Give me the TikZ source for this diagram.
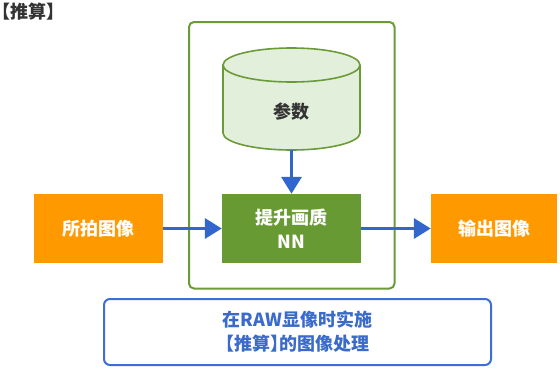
\documentclass[tikz,border=0pt]{standalone}
\usepackage{fontspec}
\setmainfont{Noto Sans CJK SC}[RawFeature=+halt]
\usetikzlibrary{arrows.meta}
\definecolor{gborder}{HTML}{6B9B37}
\definecolor{gfill}{HTML}{689A34}
\definecolor{cylfill}{HTML}{E2EFDA}
\definecolor{orng}{HTML}{FF9900}
\definecolor{arrblue}{HTML}{3366CC}
\definecolor{boxblue}{HTML}{3C6FD6}
\definecolor{txtblue}{HTML}{3A6BC9}
\definecolor{dark}{HTML}{333333}
\tikzset{
  bigfont/.style={font=\fontsize{18}{24}\selectfont\bfseries},
  orangebox/.style={fill=orng, draw=none, text=white, bigfont, inner sep=0pt},
  nnbox/.style={fill=gfill, draw=none, text=white, bigfont, align=center, inner sep=0pt},
  flow/.style={draw=arrblue, line width=3.5pt, -{Triangle[length=17pt,width=20pt]}},
}
\begin{document}
\begin{tikzpicture}[x=1pt,y=-1pt]
\useasboundingbox (0,0) rectangle (560,370);
% title
\node[anchor=west, text=dark, bigfont, inner sep=0pt] (title) at (1.5,11.5) {【推算】};
% outer green frame
\draw[draw=gborder, line width=2pt, rounded corners=5pt] (189,22) rectangle (394.5,288.5);
% cylinder
\fill[cylfill] (223,65) -- (223,133) arc[start angle=180,end angle=0,x radius=68.5,y radius=17] -- (360,65) arc[start angle=0,end angle=-180,x radius=68.5,y radius=17] -- cycle;
\draw[gborder, line width=1.6pt] (223,65) -- (223,133) arc[start angle=180,end angle=0,x radius=68.5,y radius=17] -- (360,65) arc[start angle=0,end angle=-180,x radius=68.5,y radius=17] -- cycle;
\draw[gborder, line width=1.6pt] (223,65) arc[start angle=180,end angle=0,x radius=68.5,y radius=17];
\node[text=dark, bigfont] (param) at (291.5,112) {参数};
\coordinate (pbot) at (291.5,150);
% boxes
\node[orangebox, minimum width=129pt, minimum height=69pt] (inimg) at (98.5,228.5) {所拍图像};
\node[nnbox, minimum width=139pt, minimum height=69pt] (nn) at (291.5,228.5) {提升画质\\NN};
\node[orangebox, minimum width=126pt, minimum height=69pt] (outimg) at (494,228.5) {输出图像};
% arrows
\draw[flow] (pbot) -- (nn.north);
\draw[flow] (inimg.east) -- (nn.west);
\draw[flow] (nn.east) -- (outimg.west);
% bottom note
\node[draw=boxblue, line width=2pt, rounded corners=6pt, minimum width=387pt, minimum height=66pt, text=txtblue, bigfont, align=center, inner sep=0pt] (note) at (297.5,332) {在RAW显像时实施\\【推算】的图像处理};
\end{tikzpicture}
\end{document}
